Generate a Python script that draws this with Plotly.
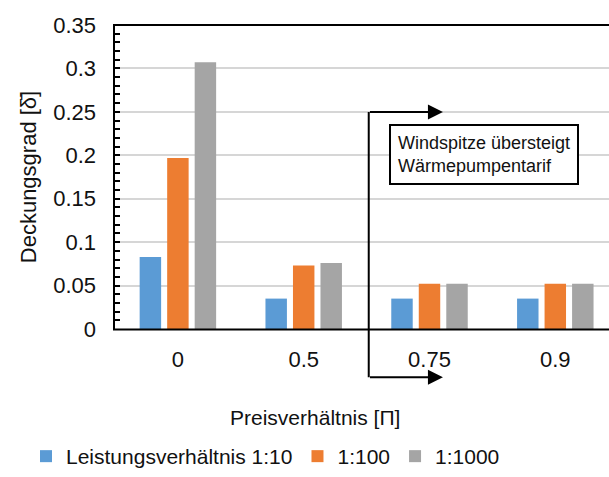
import plotly.graph_objects as go

categories = ["0", "0.5", "0.75", "0.9"]
series_names = ["Leistungsverhältnis 1:10", "1:100", "1:1000"]
values_1_10 = [0.083, 0.035, 0.035, 0.035]
values_1_100 = [0.197, 0.073, 0.052, 0.052]
values_1_1000 = [0.307, 0.076, 0.052, 0.052]
colors = ["#5B9BD5", "#ED7D31", "#A5A5A5"]
y_ticks = [0, 0.05, 0.1, 0.15, 0.2, 0.25, 0.3, 0.35]

FONT = "Arial, 'Liberation Sans', sans-serif"
TXT = "#111111"

fig = go.Figure()
for name, vals, col in zip(series_names, [values_1_10, values_1_100, values_1_1000], colors):
    fig.add_trace(go.Bar(x=categories, y=vals, name=name,
                         marker=dict(color=col, line=dict(width=0))))

W, H = 609, 477
ml, mr, mt, mb = 115, 0, 25, 148
pw, ph = W - ml - mr, H - mt - mb

def py(px_y):
    return (H - mb - px_y) / ph

def px(px_x):
    return (px_x - ml) / pw

fig.update_layout(
    template="none",
    width=W, height=H, autosize=False,
    margin=dict(l=ml, r=mr, t=mt, b=mb, pad=0, autoexpand=False),
    plot_bgcolor="white", paper_bgcolor="white",
    font=dict(family=FONT, size=21, color=TXT),
    barmode="group", bargap=0.344, bargroupgap=0.22,
    showlegend=True,
    legend=dict(orientation="h", x=px(26), y=py(477), xanchor="left", yanchor="bottom",
                font=dict(size=21, color=TXT), bgcolor="rgba(0,0,0,0)", borderwidth=0,
                itemsizing="constant", traceorder="normal"),
)

fig.update_xaxes(
    type="category", categoryorder="array", categoryarray=categories,
    range=[-0.5, -0.5 + pw / 125.8], automargin=False,
    showline=False, mirror=False,
    ticks="", showgrid=False, zeroline=False,
    tickfont=dict(size=22, color=TXT), ticklabelstandoff=15,
)

fig.update_yaxes(
    range=[0, 0.35], tickvals=y_ticks, ticktext=[f"{v:g}" for v in y_ticks],
    automargin=False,
    showline=False, mirror=False,
    ticks="inside", ticklen=5, tickwidth=2, tickcolor="black",
    minor=dict(dtick=0.01, tick0=0, ticks="inside", ticklen=5, tickwidth=2, tickcolor="black", showgrid=False),
    showgrid=True, gridcolor="#d6d6d6", gridwidth=1.5, zeroline=False,
    tickfont=dict(size=22, color=TXT), ticklabelstandoff=18,
    title=dict(text="Deckungsgrad [δ̄]", font=dict(size=22, color=TXT), standoff=10),
)

# frame lines of the plot area: left, bottom, top (no right border visible)
frame = dict(color="black", width=2)
fig.add_shape(type="line", xref="paper", yref="paper", x0=px(114), x1=px(114), y0=py(330), y1=py(24), line=frame)
fig.add_shape(type="line", xref="paper", yref="paper", x0=px(113), x1=1, y0=py(329.5), y1=py(329.5), line=frame)
fig.add_shape(type="line", xref="paper", yref="paper", x0=px(113), x1=1, y0=py(25), y1=py(25), line=frame)

# boundary line: wind peak exceeds heat pump tariff
x_line = 1.517
fig.add_shape(type="line", xref="x", yref="paper", x0=x_line, x1=x_line,
              y0=py(377.3), y1=py(112), line=dict(color="black", width=2))
for yy in [112, 377.3]:
    fig.add_annotation(xref="x", yref="paper", x=2.107, y=py(yy), text="",
                       showarrow=True, arrowhead=2, arrowsize=1.5, arrowwidth=2,
                       arrowcolor="black", ax=-74.5, ay=0, axref="pixel", ayref="pixel")

fig.add_annotation(xref="x", yref="paper", x=2.433, y=py(154),
                   text="Windspitze übersteigt<br>Wärmepumpentarif", align="left",
                   showarrow=False, font=dict(size=18, color=TXT),
                   bordercolor="black", borderwidth=2, borderpad=7, bgcolor="white")

fig.add_annotation(xref="paper", yref="paper", x=px(315), y=py(418),
                   text="Preisverhältnis [Π]", showarrow=False,
                   xanchor="center", yanchor="middle", font=dict(size=21, color=TXT))

fig.write_html("out.html")
